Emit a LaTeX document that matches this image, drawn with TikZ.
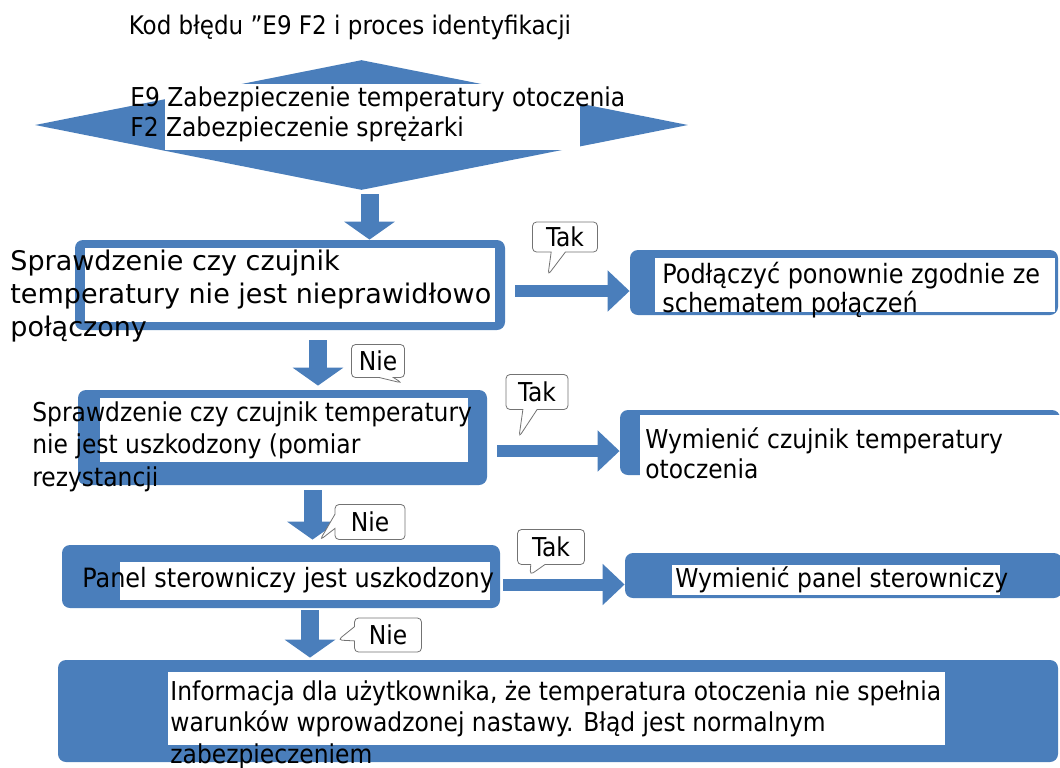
\documentclass[tikz,border=0pt]{standalone}
\usepackage{fontspec}
\setmainfont{DejaVu Sans Condensed}
\newfontfamily\szeroki{DejaVu Sans}
\usetikzlibrary{shapes.geometric,shapes.callouts,arrows.meta}
\definecolor{niebieski}{HTML}{4A7EBB}

\begin{document}
\begin{tikzpicture}[x=.5pt,y=-.5pt,
  blok/.style={fill=niebieski,rounded corners=4pt,inner sep=0},
  opis/.style={anchor=north west,align=left,inner sep=0,font=\fontsize{13}{15.5}\selectfont},
  dymek/.style={rectangle callout,draw=black!55,fill=white,rounded corners=2pt,inner sep=1pt,font=\fontsize{13}{14}\selectfont},
  wdol/.style={niebieski,line width=9pt,-{Triangle[width=25pt,length=9pt]}},
  wprawo/.style={niebieski,line width=6pt,-{Triangle[width=20pt,length=11pt]}}]
\useasboundingbox (0,0) rectangle (1060,767);

\node[font=\fontsize{12.8}{14}\selectfont] (tytul) at (350,27) {Kod błędu "E9 F2 i proces identyfikacji};

% romb i bloki
\node[diamond,fill=niebieski,minimum width=326.5pt,minimum height=65pt,inner sep=0] (romb) at (361.5,125) {};
\node[blok,minimum width=215pt,minimum height=45pt] (box1) at (290,285) {};
\node[blok,minimum width=214pt,minimum height=32.5pt] (box1r) at (844,282.5) {};
\node[blok,minimum width=204.5pt,minimum height=47.5pt] (box2) at (282.5,437.5) {};
\node[blok,minimum width=220pt,minimum height=32.5pt] (box2r) at (840,442.5) {};
\node[blok,minimum width=219pt,minimum height=31.5pt] (box3) at (281,576.5) {};
\node[blok,minimum width=218.5pt,minimum height=22.5pt] (box3r) at (843.5,575.5) {};
\node[blok,minimum width=500pt,minimum height=51pt] (box4) at (558,711) {};

% biale pola pod tekstem
\fill[white] (165,84) rectangle (580,150);
\fill[white] (85,248) rectangle (495,322);
\fill[white] (655,258) rectangle (1055,312);
\fill[white] (100,398) rectangle (468,462);
\fill[white] (640,415) rectangle (1062,492);
\fill[white] (120,562) rectangle (490,600);
\fill[white] (672,565) rectangle (1000,595);
\fill[white] (168,672) rectangle (945,745);

% teksty
\node[opis,font=\fontsize{13}{15}\selectfont] (t0) at (130,86) {E9 Zabezpieczenie temperatury otoczenia\\F2 Zabezpieczenie sprężarki};
\node[opis,font=\szeroki\fontsize{13.5}{16.5}\selectfont] (t1) at (10,250) {Sprawdzenie czy czujnik\\temperatury nie jest nieprawidłowo\\połączony};
\node[opis,font=\fontsize{13.3}{14.5}\selectfont] (t1r) at (662,262) {Podłączyć ponownie zgodnie ze\\schematem połączeń};
\node[opis,font=\fontsize{13}{16.25}\selectfont] (t2) at (32,401) {Sprawdzenie czy czujnik temperatury\\nie jest uszkodzony (pomiar\\rezystancji};
\node[opis,font=\fontsize{13}{15}\selectfont] (t2r) at (645,427) {Wymienić czujnik temperatury\\otoczenia};
\node[opis,anchor=west,font=\fontsize{13.3}{15}\selectfont] (t3) at (82,580) {Panel sterowniczy jest uszkodzony};
\node[opis,anchor=west] (t3r) at (675,580) {Wymienić panel sterowniczy};
\node[opis,font=\fontsize{13}{15.75}\selectfont] (t4) at (170,680) {Informacja dla użytkownika, że temperatura otoczenia nie spełnia\\warunków wprowadzonej nastawy. Błąd jest normalnym\\zabezpieczeniem};

% strzalki
\draw[wdol,shorten <=2pt] ([xshift=4pt]romb.south) -- ([xshift=4pt]romb.south |- box1.north);
\draw[wdol,shorten <=5pt,shorten >=2pt] ([xshift=14pt]box1.south) -- ([xshift=14pt]box1.south |- box2.north);
\draw[wdol,shorten <=2.5pt,shorten >=2.5pt] ([xshift=15pt]box2.south) -- ([xshift=15pt]box2.south |- box3.north);
\draw[wdol,shorten <=1pt,shorten >=1pt] ([xshift=14.5pt]box3.south) -- ([xshift=14.5pt]box3.south |- box4.north);
\draw[wprawo,shorten <=5pt] ([yshift=-3pt]box1.east) -- ([yshift=-3pt]box1.east -| box1r.west);
\draw[wprawo,shorten <=5pt] ([yshift=-6.75pt]box2.east) -- ([yshift=-6.75pt]box2.east -| box2r.west);
\draw[wprawo,shorten <=1.5pt] ([yshift=-4pt]box3.east) -- ([yshift=-4pt]box3.east -| box3r.west);

% dymki
\node[dymek,minimum width=32.5pt,minimum height=15pt,callout absolute pointer={(548,275)}] (tak1) at (565,237) {Tak};
\node[dymek,minimum width=26.5pt,minimum height=16.5pt,callout absolute pointer={(402,383)}] (nie1) at (378,361) {Nie};
\node[dymek,minimum width=31pt,minimum height=17.5pt,callout absolute pointer={(519,437)}] (tak2) at (537,392) {Tak};
\node[dymek,minimum width=35pt,minimum height=17.5pt,callout absolute pointer={(320,540)}] (nie2) at (370,522) {Nie};
\node[dymek,minimum width=33.5pt,minimum height=17.5pt,callout absolute pointer={(530,575)}] (tak3) at (551,547) {Tak};
\node[dymek,minimum width=33.5pt,minimum height=17pt,callout absolute pointer={(338,640)}] (nie3) at (388,635) {Nie};
\end{tikzpicture}
\end{document}
